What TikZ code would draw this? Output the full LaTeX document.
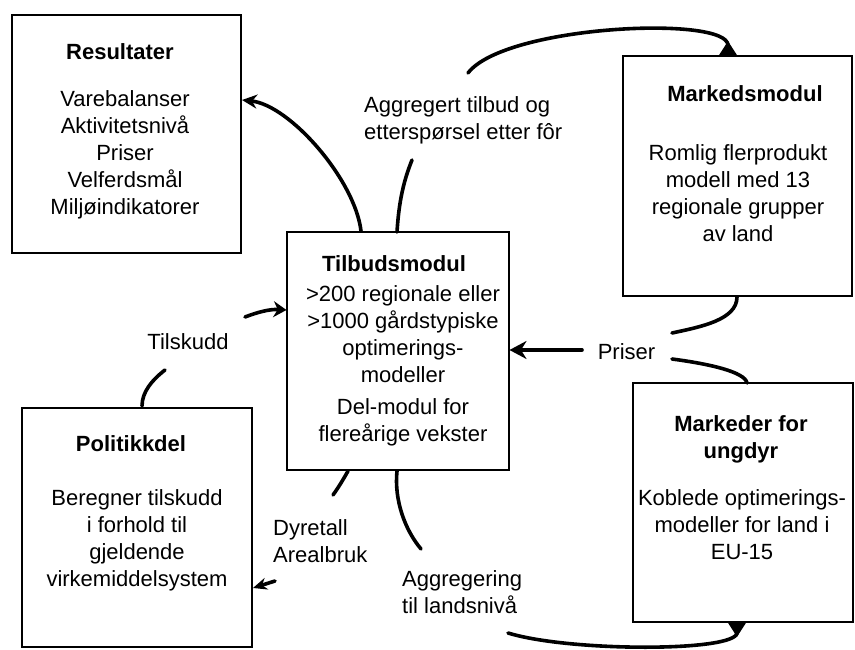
\documentclass[tikz,border=0pt]{standalone}
\usepackage{fontspec}
\setmainfont{Liberation Sans}
\usetikzlibrary{arrows.meta}
\begin{document}
\begin{tikzpicture}[x=1pt,y=-1pt,
  box/.style={draw=black, line width=1.6pt, fill=white, inner sep=0pt},
  txt/.style={font=\fontsize{22}{27}\selectfont, inner sep=0pt, align=center, anchor=north},
  ttl/.style={font=\fontsize{22}{27}\selectfont\bfseries, inner sep=0pt, align=center, anchor=north},
  lbl/.style={font=\fontsize{22}{27}\selectfont, inner sep=0pt, align=left},
  conn/.style={line width=3.6pt, line cap=round},
  tipS/.style={-{Stealth[length=15pt,width=14pt]}},
  tipR/.style={-{Triangle[reversed,length=15pt,width=18pt]}}
]
\useasboundingbox (0,0) rectangle (855,650);
\fill[white] (0,0) rectangle (855,650);

% boxes
\node[box, minimum width=229pt, minimum height=238pt] (res)  at (126.5,134) {};
\node[box, minimum width=222pt, minimum height=238pt] (tilb) at (398,351) {};
\node[box, minimum width=229pt, minimum height=240pt] (mark) at (737.5,176) {};
\node[box, minimum width=220pt, minimum height=239pt] (ung)  at (743,502.5) {};
\node[box, minimum width=230pt, minimum height=239pt] (pol)  at (137,527.5) {};

% box texts
\node[ttl] (resT) at (120,43) {Resultater};
\node[txt] (resB) at (125,90) {Varebalanser\\Aktivitetsnivå\\Priser\\Velferdsmål\\Miljøindikatorer};
\node[ttl] (tilbT) at (394,255) {Tilbudsmodul};
\node[txt] (tilbB) at (403,285) {>200 regionale eller\\>1000 gårdstypiske\\optimerings-\\modeller};
\node[txt] (tilbC) at (403,398) {Del-modul for\\flereårige vekster};
\node[ttl] (markT) at (745,85) {Markedsmodul};
\node[txt] (markB) at (738,144) {Romlig flerprodukt\\modell med 13\\regionale grupper\\av land};
\node[ttl] (ungT) at (741,415) {Markeder for\\ungdyr};
\node[txt] (ungB) at (742,489) {Koblede optimerings-\\modeller for land i\\EU-15};
\node[ttl] (polT) at (131,435) {Politikkdel};
\node[txt] (polB) at (137,489) {Beregner tilskudd\\i forhold til\\gjeldende\\virkemiddelsystem};

% connector labels
\node[lbl, anchor=north west] (lAgg) at (364,96) {Aggregert tilbud og\\etterspørsel etter fôr};
\node[lbl] (lPris) at (626.5,352) {Priser};
\node[lbl] (lTil) at (188,342) {Tilskudd};
\node[lbl, anchor=north west] (lDyr) at (273,519) {Dyretall\\Arealbruk};
\node[lbl, anchor=north west] (lAggL) at (402,570) {Aggregering\\til landsnivå};

% connector end points
\coordinate (a1) at (361,231);  \coordinate (a2) at (242,100);
\coordinate (b1) at (397,232);  \coordinate (b2) at (412,160);
\coordinate (b3) at (468,73);   \coordinate (b4) at (728,56);
\coordinate (p1) at (737,297);  \coordinate (p2) at (672,333);
\coordinate (p3) at (747,383);  \coordinate (p4) at (672,359);
\coordinate (p5) at (582,350);  \coordinate (p6) at (509.5,350);
\coordinate (t1) at (142,406);  \coordinate (t2) at (165,370);
\coordinate (t3) at (245,317);  \coordinate (t4) at (286.5,310);
\coordinate (d1) at (348,471);  \coordinate (d2) at (333,495);
\coordinate (d3) at (275,581);  \coordinate (d4) at (253,588);
\coordinate (g1) at (397,471);  \coordinate (g2) at (421,549);
\coordinate (g3) at (508,633);  \coordinate (g4) at (737,622);

% connectors
\draw[conn, tipS] (a1) .. controls (355,180) and (290,105) .. (a2);
\draw[conn] (b1) .. controls (399,200) and (404,180) .. (b2);
\draw[conn, tipR] (b3) .. controls (505,25) and (728,15) .. (b4);
\draw[conn] (p1) .. controls (737,320) and (700,327) .. (p2);
\draw[conn] (p3) .. controls (745,372) and (710,364) .. (p4);
\draw[conn, -{Stealth[length=17pt,width=18pt]}] (p5) -- (p6);
\draw[conn] (t1) .. controls (142,392) and (152,380) .. (t2);
\draw[conn, -{Stealth[length=13pt,width=16pt]}] (t3) .. controls (258,312) and (270,309) .. (t4);
\draw[conn] (d1) .. controls (343,480) and (338,488) .. (d2);
\draw[conn, -{Stealth[length=14pt,width=12pt]}] (d3) -- (d4);
\draw[conn] (g1) .. controls (394,500) and (405,530) .. (g2);
\draw[conn, tipR] (g3) .. controls (570,652) and (737,652) .. (g4);
\end{tikzpicture}
\end{document}
